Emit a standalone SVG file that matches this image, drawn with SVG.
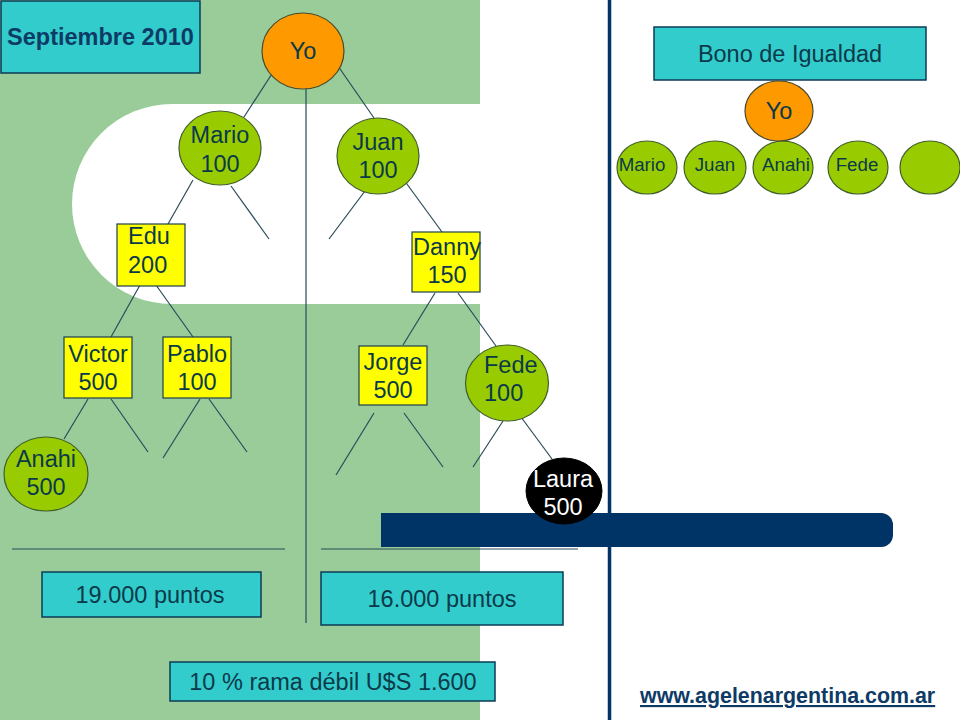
<svg xmlns="http://www.w3.org/2000/svg" width="960" height="720" viewBox="0 0 960 720">
<style>
text{font-family:"Liberation Sans",Arial,sans-serif;fill:#0a3a4a;font-size:23.5px}
.c{text-anchor:middle}
.s{font-size:18.7px}
.g{fill:#99CC00;stroke:#3f5f2a;stroke-width:1.2}
.o{fill:#FF9900;stroke:#4a4a2a;stroke-width:1.2}
.y{fill:#FFFF00;stroke:#1f3f4f;stroke-width:1.2}
.b{fill:#33CCCC;stroke:#0d3b57;stroke-width:1.5}
.k{fill:#000000;stroke:#000000}
.ln{stroke:#2a4a5a;stroke-width:1.2;fill:none}
</style>
<rect x="0" y="0" width="960" height="720" fill="#ffffff"/>
<rect x="0" y="0" width="480" height="720" fill="#99CC99"/>
<path d="M480,104 H172 A100,100 0 0 0 172,304 H480 Z" fill="#ffffff"/>
<line x1="609.5" y1="0" x2="609.5" y2="720" stroke="#003366" stroke-width="3.5"/>
<g id="connectors" class="ln">
<line x1="306" y1="80" x2="306" y2="623"/>
<line x1="277" y1="66" x2="244" y2="117"/>
<line x1="338" y1="66" x2="374" y2="118"/>
<line x1="193" y1="180" x2="168" y2="224"/>
<line x1="231" y1="186" x2="269" y2="239"/>
<line x1="368" y1="187" x2="329" y2="239"/>
<line x1="404" y1="180" x2="442" y2="232"/>
<line x1="140" y1="285" x2="111" y2="337"/>
<line x1="156" y1="285" x2="193" y2="337"/>
<line x1="88" y1="399" x2="64" y2="439"/>
<line x1="111" y1="399" x2="148" y2="452"/>
<line x1="200" y1="399" x2="163" y2="458"/>
<line x1="209" y1="399" x2="247" y2="452"/>
<line x1="435" y1="293" x2="403" y2="345"/>
<line x1="458" y1="293" x2="496" y2="346"/>
<line x1="374" y1="413" x2="336" y2="475"/>
<line x1="404" y1="413" x2="443" y2="467"/>
<line x1="503" y1="421" x2="473" y2="467"/>
<line x1="518" y1="413" x2="552" y2="459"/>
<line x1="12" y1="549" x2="285" y2="549"/>
<line x1="321" y1="549" x2="578" y2="549"/>
</g>
<g id="title">
<rect class="b" x="1" y="1" width="199" height="72"/>
<text class="c" x="100.5" y="45" style="font-weight:bold;fill:#0d3b66">Septiembre 2010</text>
</g>
<g id="yo">
<ellipse class="o" cx="303" cy="51" rx="41" ry="38"/>
<text class="c" x="303" y="59">Yo</text>
</g>
<g id="mario">
<ellipse class="g" cx="220" cy="148" rx="41" ry="37"/>
<text class="c" x="220" y="143">Mario</text>
<text class="c" x="220" y="172">100</text>
</g>
<g id="juan">
<ellipse class="g" cx="378" cy="156" rx="41" ry="38"/>
<text class="c" x="378" y="150">Juan</text>
<text class="c" x="378" y="178">100</text>
</g>
<g id="edu">
<rect class="y" x="117" y="224" width="68" height="62"/>
<text x="128" y="244">Edu</text>
<text x="128" y="273">200</text>
</g>
<g id="danny">
<rect class="y" x="412" y="232" width="68" height="60"/>
<text class="c" x="447" y="255">Danny</text>
<text class="c" x="447" y="283">150</text>
</g>
<g id="victor">
<rect class="y" x="64" y="337" width="68" height="61"/>
<text class="c" x="98" y="362">Victor</text>
<text class="c" x="98" y="390">500</text>
</g>
<g id="pablo">
<rect class="y" x="163" y="337" width="68" height="61"/>
<text class="c" x="197" y="362">Pablo</text>
<text class="c" x="197" y="390">100</text>
</g>
<g id="anahi">
<ellipse class="g" cx="46" cy="474" rx="42" ry="37"/>
<text class="c" x="46" y="467">Anahi</text>
<text class="c" x="46" y="495">500</text>
</g>
<g id="jorge">
<rect class="y" x="359" y="346" width="68" height="59"/>
<text class="c" x="393" y="370">Jorge</text>
<text class="c" x="393" y="398">500</text>
</g>
<g id="fede">
<ellipse class="g" cx="507" cy="383" rx="41.5" ry="38"/>
<text x="484" y="373">Fede</text>
<text x="484" y="401">100</text>
</g>
<g id="bar">
<path d="M381,513 H881 A12,12 0 0 1 893,525 V535 A12,12 0 0 1 881,547 H381 Z" fill="#003366"/>
</g>
<g id="laura">
<ellipse class="k" cx="564" cy="491" rx="38" ry="33"/>
<text class="c" x="563" y="487" style="fill:#ffffff">Laura</text>
<text class="c" x="563" y="515" style="fill:#ffffff">500</text>
</g>
<g id="puntos19">
<rect class="b" x="42" y="572" width="219" height="45"/>
<text class="c" x="150" y="603">19.000 puntos</text>
</g>
<g id="puntos16">
<rect class="b" x="321" y="572" width="242" height="53"/>
<text class="c" x="442" y="607">16.000 puntos</text>
</g>
<g id="rama">
<rect class="b" x="170" y="662" width="325" height="39"/>
<text class="c" x="333" y="690">10 % rama débil U$S 1.600</text>
</g>
<g id="bono">
<rect class="b" x="654" y="27" width="272" height="53"/>
<text class="c" x="790" y="62">Bono de Igualdad</text>
</g>
<g id="s-mario">
<ellipse class="g" cx="647" cy="167.5" rx="30" ry="26.5"/>
<text class="c s" x="642" y="171">Mario</text>
</g>
<g id="s-juan">
<ellipse class="g" cx="715" cy="167.5" rx="31" ry="26.5"/>
<text class="c s" x="715" y="171">Juan</text>
</g>
<g id="s-anahi">
<ellipse class="g" cx="783" cy="167.5" rx="30" ry="26.5"/>
<text class="c s" x="786" y="171">Anahi</text>
</g>
<g id="s-fede">
<ellipse class="g" cx="858" cy="167.5" rx="30" ry="26.5"/>
<text class="c s" x="857" y="171">Fede</text>
</g>
<g id="s-empty">
<ellipse class="g" cx="930" cy="167.5" rx="30" ry="26.5"/>
</g>
<g id="s-yo">
<ellipse class="o" cx="779" cy="111" rx="34" ry="30"/>
<text class="c" x="779" y="119">Yo</text>
</g>
<g id="url">
<text x="640" y="703" style="font-size:21.4px;font-weight:bold;fill:#0d3b66;text-decoration:underline">www.agelenargentina.com.ar</text>
</g>
</svg>
